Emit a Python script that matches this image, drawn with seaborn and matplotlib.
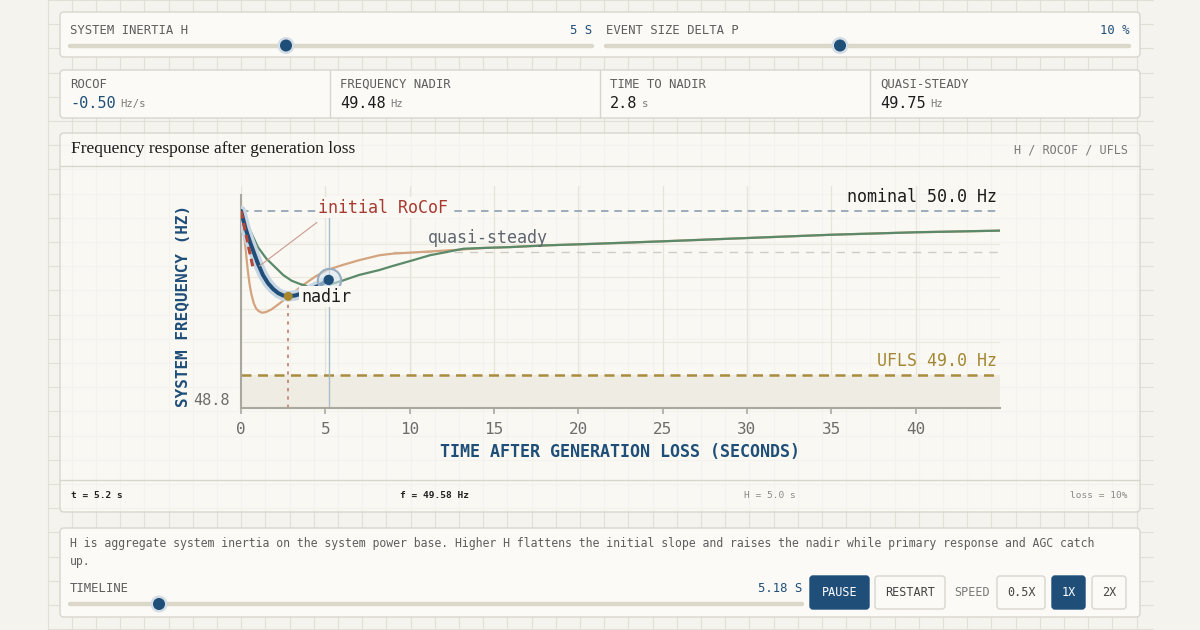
import numpy as np
import matplotlib.pyplot as plt
import matplotlib.colors as mcolors
import seaborn as sns
from matplotlib.patches import FancyBboxPatch, Circle

# ---- values ----
# current animated trace (H = 5 s, loss = 10 %), t in s, f in Hz
trace_t = [0, 0.25, 0.5, 0.75, 1.0, 1.3, 1.6, 1.9, 2.2, 2.5, 2.8, 3.2, 3.7, 4.2, 4.7, 5.2]
trace_f = [50.0, 49.90, 49.82, 49.75, 49.68, 49.61, 49.56, 49.525, 49.50, 49.485, 49.48,
           49.485, 49.50, 49.525, 49.55, 49.58]

# comparison curve, slower response (green)
slow_t = [0, 0.5, 1.0, 1.5, 2.0, 2.5, 3.0, 3.5, 4.0, 4.6, 5.2, 6.0, 7.0, 8.2, 9.0, 10.2,
          11.2, 12.2, 13.2, 14.5, 16.0, 18.0, 21.0, 25, 30, 35, 40, 45]
slow_f = [50.0, 49.89, 49.78, 49.71, 49.66, 49.61, 49.575, 49.555, 49.54, 49.535, 49.55,
          49.575, 49.61, 49.64, 49.665, 49.70, 49.73, 49.75, 49.77, 49.775, 49.78, 49.79,
          49.80, 49.815, 49.835, 49.855, 49.87, 49.88]

# comparison curve, low inertia (orange)
fast_t = [0, 0.1, 0.2, 0.3, 0.4, 0.5, 0.6, 0.75, 0.9, 1.05, 1.25, 1.5, 1.8, 2.2, 2.7, 3.2,
          3.7, 4.4, 5.1, 6.0, 7.0, 8.2, 9.0, 10.2, 11.5, 12.8, 14.5, 16.0, 18.0, 21.0, 25, 30,
          35, 40, 45]
fast_f = [50.0, 49.93, 49.84, 49.74, 49.64, 49.56, 49.50, 49.44, 49.405, 49.39, 49.38,
          49.385, 49.40, 49.43, 49.47, 49.51, 49.55, 49.60, 49.64, 49.67, 49.70, 49.73,
          49.74, 49.747, 49.755, 49.763, 49.775, 49.78, 49.79, 49.80, 49.815, 49.835,
          49.855, 49.87, 49.88]

# initial RoCoF tangent and its label leader
tangent_t = [0, 0.72]
tangent_f = [50.0, 49.65]
leader_t = [4.5, 1.1]
leader_f = [49.93, 49.665]

nominal_hz = 50.0
ufls_hz = 49.0
quasi_hz = 49.75
quasi_start = 9.0
nadir_t, nadir_f = 2.8, 49.48
now_t, now_f = 5.2, 49.58
x_ticks = [0, 5, 10, 15, 20, 25, 30, 35, 40]

stat_labels = ["ROCOF", "FREQUENCY NADIR", "TIME TO NADIR", "QUASI-STEADY"]
stat_values = ["-0.50", "49.48", "2.8", "49.75"]
stat_units = ["Hz/s", "Hz", "s", "Hz"]

# ---- colours ----
PAGE = '#f4f3ee'
GRID = '#e2e0d6'
PANEL = '#fbfaf6'
EDGE = '#d8d6cc'
BLUE = '#1f4e79'
TRACK = '#dcd8c9'
GREY = '#5e5e5e'
MUTED = '#7a7a7a'

sns.set_theme(style='white')
plt.rcParams['font.family'] = ['DejaVu Sans Mono', 'DejaVu Sans']

fig = plt.figure(figsize=(12, 6.3), dpi=100)
fig.patch.set_facecolor(PAGE)

# background layer in pixel units (y downwards)
bg = fig.add_axes([0, 0, 1, 1])
bg.set_xlim(0, 1200)
bg.set_ylim(630, 0)
bg.axis('off')
bg.set_zorder(0)

for gx in np.arange(47.5, 1154, 24.2):
    bg.plot([gx, gx], [0, 630], color=GRID, lw=0.8, zorder=0)
for gy in np.arange(0, 631, 24.2):
    bg.plot([47.5, 1153], [gy, gy], color=GRID, lw=0.8, zorder=0)


def panel(x0, y0, x1, y1, alpha=1.0):
    fc = mcolors.to_rgba(PANEL, alpha)
    bg.add_patch(FancyBboxPatch((x0, y0), x1 - x0, y1 - y0,
                                boxstyle="round,pad=0,rounding_size=4",
                                fc=fc, ec=EDGE, lw=1, zorder=1))


def slider(x0, x1, y, kx):
    bg.plot([x0, x1], [y, y], color=TRACK, lw=3.2, solid_capstyle='round', zorder=2)
    bg.add_patch(Circle((kx, y), 8.5, fc='#d4dce5', ec='none', zorder=3))
    bg.add_patch(Circle((kx, y), 6, fc=BLUE, ec='none', zorder=4))


def button(x0, x1, y0, y1, txt, filled=False):
    bg.add_patch(FancyBboxPatch((x0, y0), x1 - x0, y1 - y0,
                                boxstyle="round,pad=0,rounding_size=3",
                                fc=BLUE if filled else PANEL,
                                ec=BLUE if filled else EDGE, lw=1, zorder=2))
    bg.text((x0 + x1) / 2, (y0 + y1) / 2, txt, ha='center', va='center', fontsize=8.5,
            color='white' if filled else '#444444', zorder=3)


# top sliders
panel(60, 12, 1140, 57)
bg.text(70, 30, "SYSTEM INERTIA H", fontsize=8.8, color=GREY, va='center')
bg.text(592, 30, "5 S", fontsize=8.8, color=BLUE, va='center', ha='right')
slider(70, 592, 45.5, 286)
bg.text(606, 30, "EVENT SIZE DELTA P", fontsize=8.8, color=GREY, va='center')
bg.text(1129, 30, "10 %", fontsize=8.8, color=BLUE, va='center', ha='right')
slider(606, 1129, 45.5, 840)

# stats row
panel(60, 70, 1140, 118)
for i, (lab, val, unit) in enumerate(zip(stat_labels, stat_values, stat_units)):
    x0 = 70 + 270 * i
    if i > 0:
        bg.plot([x0 - 10, x0 - 10], [70, 118], color=EDGE, lw=1, zorder=2)
    bg.text(x0, 84, lab, fontsize=8.8, color=GREY, va='center')
    bg.text(x0, 103, val, fontsize=11, color=BLUE if i == 0 else '#1c1c1c',
            va='center', fontweight='medium')
    bg.text(x0 + len(val) * 9.2 + 4, 104, unit, fontsize=7.6, color=MUTED, va='center')

# chart panel
panel(60, 133, 1140, 512, alpha=0.72)
bg.plot([60, 1140], [166, 166], color=EDGE, lw=1, zorder=2)
bg.plot([60, 1140], [480, 480], color=EDGE, lw=1, zorder=2)
bg.text(71, 149, "Frequency response after generation loss", family='Liberation Serif',
        fontsize=12.5, color='#1c1c1c', va='center')
bg.text(1128, 150, "H / ROCOF / UFLS", fontsize=8.5, color=MUTED, va='center', ha='right')
bg.text(71, 496, "t = 5.2 s", fontsize=6.8, color='#222222', va='center', fontweight='bold')
bg.text(400, 496, "f = 49.58 Hz", fontsize=6.8, color='#222222', va='center', fontweight='bold')
bg.text(744, 496, "H = 5.0 s", fontsize=6.8, color='#8a8a8a', va='center')
bg.text(1128, 496, "loss = 10%", fontsize=6.8, color='#8a8a8a', va='center', ha='right')
bg.text(183, 306, "SYSTEM FREQUENCY (HZ)", fontsize=11.5, fontweight='bold', color=BLUE,
        rotation=90, ha='center', va='center')
bg.text(620, 452, "TIME AFTER GENERATION LOSS (SECONDS)", fontsize=12, fontweight='bold',
        color=BLUE, ha='center', va='center')

# bottom controls
panel(60, 528, 1140, 617)
bg.text(70, 544, "H is aggregate system inertia on the system power base. Higher H flattens "
        "the initial slope and raises the nadir while primary response and AGC catch",
        fontsize=8.3, color=GREY, va='center')
bg.text(70, 561, "up.", fontsize=8.3, color=GREY, va='center')
bg.text(70, 588, "TIMELINE", fontsize=8.8, color=GREY, va='center')
bg.text(802, 588, "5.18 S", fontsize=8.8, color=BLUE, va='center', ha='right', fontweight='medium')
slider(70, 802, 604, 159)
button(810, 869, 576, 609, "PAUSE", filled=True)
button(875, 945, 576, 609, "RESTART")
bg.text(972, 592.5, "SPEED", fontsize=8.5, color=MUTED, ha='center', va='center')
button(997, 1045, 576, 609, "0.5X")
button(1052, 1085, 576, 609, "1X", filled=True)
button(1092, 1126, 576, 609, "2X")

# ---- chart ----
ax = fig.add_axes([241 / 1200, 1 - 408 / 630, 759 / 1200, (408 - 186.3) / 630])
ax.set_zorder(2)
ax.patch.set_alpha(0)
ax.set_xlim(0, 45)
ax.set_ylim(48.8, 50.15)

for gx in x_ticks:
    ax.axvline(gx, color='#e6e4da', lw=0.9, zorder=0)
for gy in [49.2, 49.4, 49.6, 49.8]:
    ax.axhline(gy, color='#ebe9df', lw=0.9, zorder=0)

ax.axhspan(48.8, ufls_hz, color='#efece3', zorder=1, lw=0)
ax.axhline(nominal_hz, color='#8c9fb2', lw=1.2, ls=(0, (4.5, 3.5)), zorder=2)
ax.plot([quasi_start, 45], [quasi_hz, quasi_hz], color='#cfccc4', lw=1, ls=(0, (6, 5)), zorder=2)
ax.axhline(ufls_hz, color='#a98c3e', lw=1.8, ls=(0, (4, 2.6)), zorder=2)

ax.plot([nadir_t, nadir_t], [48.8, nadir_f], color='#c47d6e', lw=1.2, ls=(0, (2, 3)), zorder=2)
ax.plot([now_t, now_t], [48.8, 50.06], color='#a9bdcd', lw=1, zorder=2)

sns.lineplot(x=fast_t, y=fast_f, ax=ax, color='#d3a47f', lw=1.6, zorder=3)
sns.lineplot(x=slow_t, y=slow_f, ax=ax, color='#5b8a6a', lw=1.6, zorder=4)
sns.lineplot(x=trace_t, y=trace_f, ax=ax, color='#c8d6e3', lw=7.5, zorder=5,
             solid_capstyle='round')
sns.lineplot(x=trace_t, y=trace_f, ax=ax, color=BLUE, lw=2.9, zorder=6,
             solid_capstyle='round')
ax.plot(leader_t, leader_f, color='#c99a8e', lw=0.8, zorder=6)
ax.plot(tangent_t, tangent_f, color='#b5463a', lw=2.2, ls=(0, (2.5, 1.5)), zorder=7)

ax.scatter([now_t], [now_f], s=280, fc=(0.85, 0.9, 0.95, 0.55), ec='#97adc2', lw=1.5, zorder=8)
ax.scatter([now_t], [now_f], s=55, color=BLUE, ec='none', zorder=9)
ax.scatter([nadir_t], [nadir_f], s=42, color='#a8862e', ec='none', zorder=9)

lbl_box = dict(boxstyle='square,pad=0.1', fc='#f9f8f3', ec='none')
ax.text(4.56, 50.02, "initial RoCoF", fontsize=12, color='#a83a32', va='center', zorder=8,
        bbox=lbl_box)
ax.text(3.55, 49.477, "nadir", fontsize=12, color='#1c1c1c', va='center', zorder=10,
        bbox=lbl_box)
ax.text(11.08, 49.837, "quasi-steady", fontsize=12, color='#5f6670', va='center', zorder=8)
ax.text(44.85, 50.087, "nominal 50.0 Hz", fontsize=12, color='#1c1c1c', va='center',
        ha='right', zorder=8)
ax.text(44.85, 49.087, "UFLS 49.0 Hz", fontsize=12, color='#a38732', va='center',
        ha='right', zorder=8)

sns.despine(ax=ax)
for side in ['left', 'bottom']:
    ax.spines[side].set_color('#aaa89e')
    ax.spines[side].set_linewidth(1.5)
ax.spines['left'].set_bounds(48.8, 50.1)
ax.set_xticks(x_ticks)
ax.set_yticks([48.8])
ax.set_yticklabels(["48.8"])
ax.tick_params(axis='x', colors='#aaa89e', length=4, width=1.2, pad=6, labelsize=11.5,
               labelcolor='#6d6d6d', bottom=True)
ax.tick_params(axis='y', length=0, pad=8, labelsize=11, labelcolor='#6d6d6d')
for t in ax.get_yticklabels():
    t.set_va('bottom')
ax.set_xlabel('')
ax.set_ylabel('')
ax.grid(False)

fig.savefig('out.png', dpi=100, facecolor=fig.get_facecolor())
